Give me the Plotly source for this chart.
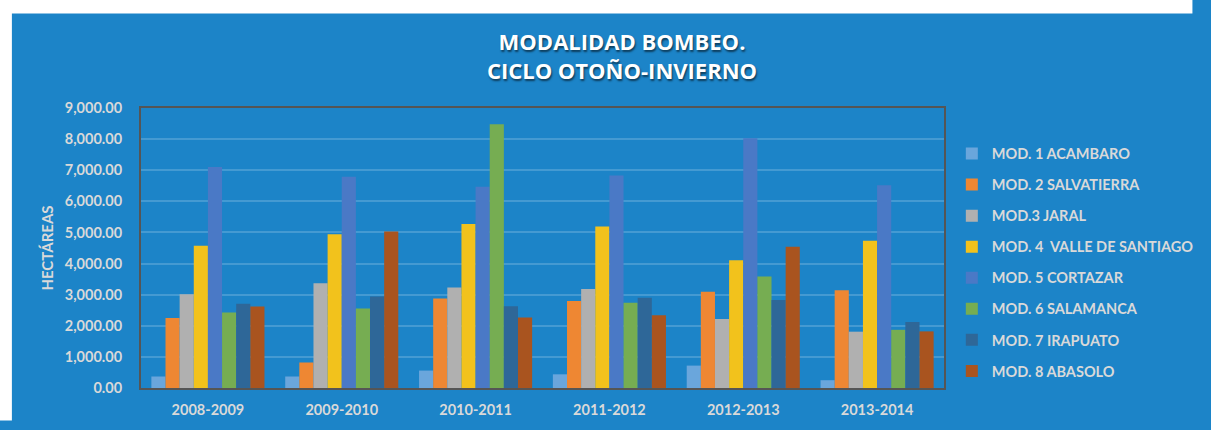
import plotly.graph_objects as go

categories = ["2008-2009", "2009-2010", "2010-2011", "2011-2012", "2012-2013", "2013-2014"]
series_names = [
    "MOD. 1 ACAMBARO",
    "MOD. 2 SALVATIERRA",
    "MOD.3 JARAL",
    "MOD. 4\u00a0 VALLE DE SANTIAGO",
    "MOD. 5 CORTAZAR",
    "MOD. 6 SALAMANCA",
    "MOD. 7 IRAPUATO",
    "MOD. 8 ABASOLO",
]
mod1 = [370, 370, 560, 440, 720, 250]
mod2 = [2250, 820, 2880, 2800, 3090, 3140]
mod3 = [3010, 3370, 3230, 3180, 2220, 1810]
mod4 = [4570, 4940, 5270, 5190, 4110, 4730]
mod5 = [7100, 6790, 6470, 6830, 8030, 6520]
mod6 = [2430, 2555, 8480, 2740, 3580, 1870]
mod7 = [2710, 2940, 2630, 2900, 2830, 2120]
mod8 = [2620, 5030, 2270, 2340, 4540, 1820]
series_values = [mod1, mod2, mod3, mod4, mod5, mod6, mod7, mod8]
colors = ["#6aa6dc", "#ee8733", "#b0b0b0", "#f2c21c", "#4a79c6", "#76ad52", "#2e6798", "#a9541f"]
y_ticks = [0, 1000, 2000, 3000, 4000, 5000, 6000, 7000, 8000, 9000]

BG = "#1c84c8"
TXT = "#d9d9d9"

fig = go.Figure()
for i, (name, vals) in enumerate(zip(series_names, series_values)):
    fig.add_trace(go.Bar(
        x=categories, y=vals, name=name, legendgroup=f"g{i}",
        marker=dict(color=colors[i], line=dict(width=0)),
    ))

W, H = 1211, 430
L, R, T, B = 141, W - 962, 108, H - 401
pw, ph = W - L - R, H - T - B

def px_x(p):
    return (p - L) / pw

def px_y(p):
    return (H - B - p) / ph

# thin white strips at left and top; the rest of the canvas is blue
fig.add_shape(type="rect", xref="paper", yref="paper",
              x0=px_x(-5), x1=px_x(9), y0=px_y(H + 5), y1=px_y(-5),
              fillcolor="white", line=dict(width=0), layer="below")
fig.add_shape(type="rect", xref="paper", yref="paper",
              x0=px_x(-5), x1=px_x(W + 5), y0=px_y(9), y1=px_y(-5),
              fillcolor="white", line=dict(width=0), layer="below")

fig.update_layout(
    width=W, height=H,
    margin=dict(l=L, r=R, t=T, b=B, pad=0),
    paper_bgcolor=BG,
    plot_bgcolor=BG,
    barmode="group", bargap=0.155, bargroupgap=0,
    title=dict(
        text="MODALIDAD BOMBEO.<br>CICLO OTOÑO-INVIERNO",
        x=622 / W, xanchor="center", y=1 - 50 / H, yanchor="middle",
        font=dict(family="Open Sans", size=22, color="white", weight="bold",
                  shadow="1px 2px 2px rgba(0,0,0,0.55)"),
    ),
    font=dict(family="Lato", color=TXT, size=14, weight="bold"),
    legend=dict(
        x=px_x(970), xanchor="left", y=px_y(139), yanchor="top",
        font=dict(family="Lato", size=14.5, color=TXT, weight="bold"),
        tracegroupgap=9.2, traceorder="grouped",
        bgcolor="rgba(0,0,0,0)", itemwidth=30,
    ),
    xaxis=dict(
        showgrid=False, showline=True, linecolor="#555555", linewidth=2, mirror=True,
        ticks="", tickfont=dict(family="Lato", size=14.5, color=TXT, weight="bold"),
        ticklabelstandoff=8,
    ),
    yaxis=dict(
        range=[0, 9000], tickvals=y_ticks, tickformat=",.2f",
        showgrid=True, gridcolor="rgba(255,255,255,0.18)", gridwidth=2,
        showline=True, linecolor="#555555", linewidth=2, mirror=True,
        zeroline=False, ticks="", ticklabelstandoff=14,
        tickfont=dict(family="Lato", size=14.5, color=TXT, weight="bold"),
        title=dict(text="HECTÁREAS", standoff=8,
                   font=dict(family="Lato", size=15, color=TXT, weight="bold")),
    ),
    showlegend=True,
)

fig.write_html(
    "out.html",
    config={"displayModeBar": False, "responsive": False},
    post_script=(
        "document.body.style.margin='0';"
        "document.body.style.overflow='hidden';"
        "document.documentElement.style.overflow='hidden';"
        "document.body.style.background='%s';"
        "document.documentElement.style.background='%s';" % (BG, BG)
    ),
)
